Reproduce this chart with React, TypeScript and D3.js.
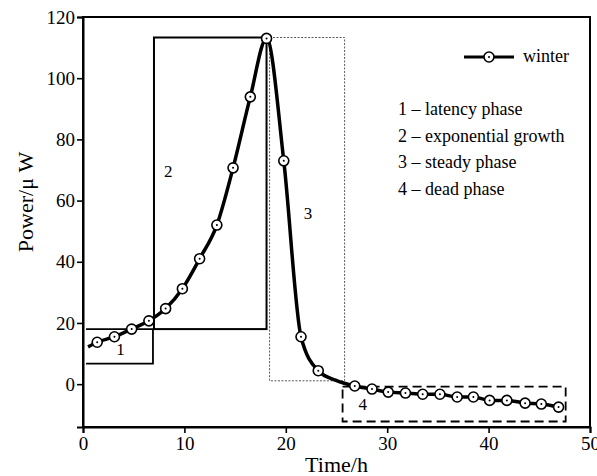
import React, { useEffect, useRef } from 'react';
import * as d3 from 'd3';

// sampled curve (hours, µW)
const lineTime = [0.5, 1.4, 3.1, 4.8, 6.5, 8.15, 9.8, 11.5, 13.2, 14.8, 16.5, 18.1, 19.8, 21.5, 23.2, 24.9, 26.8, 28.5, 30.1, 31.8, 33.5, 35.2, 36.9, 38.5, 40.1, 41.8, 43.6, 45.2, 46.9];
const linePower = [12.2, 13.7, 15.5, 18.0, 20.7, 24.7, 31.2, 41.0, 52.0, 70.7, 93.9, 113.0, 73.0, 15.5, 4.4, 1.3, -0.6, -1.6, -2.6, -2.9, -3.3, -3.3, -4.2, -4.2, -5.3, -5.3, -6.2, -6.5, -7.5];
// points that carry a marker
const markTime = [1.4, 3.1, 4.8, 6.5, 8.15, 9.8, 11.5, 13.2, 14.8, 16.5, 18.1, 19.8, 21.5, 23.2, 26.8, 28.5, 30.1, 31.8, 33.5, 35.2, 36.9, 38.5, 40.1, 41.8, 43.6, 45.2, 46.9];
const markPower = [13.7, 15.5, 18.0, 20.7, 24.7, 31.2, 41.0, 52.0, 70.7, 93.9, 113.0, 73.0, 15.5, 4.4, -0.6, -1.6, -2.6, -2.9, -3.3, -3.3, -4.2, -4.2, -5.3, -5.3, -6.2, -6.5, -7.5];

const xTicks = [0, 10, 20, 30, 40, 50];
const yTicks = [0, 20, 40, 60, 80, 100, 120];

// phase boxes [x0, x1, y0, y1]
const phaseBoxes = [
  [0.3, 6.9, 6.7, 18.0],
  [7.0, 18.1, 18.0, 113.3],
  [18.4, 25.8, 1.1, 113.3],
  [25.6, 47.6, -12.2, -0.8],
];
const phaseLabels = ['1', '2', '3', '4'];
const phaseLabelPos = [[3.7, 11.4], [8.4, 69.7], [22.2, 55.8], [27.6, -6.4]];
const phaseNames = ['1 – latency phase', '2 – exponential growth', '3 – steady phase', '4 – dead phase'];

const App = () => {
  const ref = useRef<SVGSVGElement>(null);

  useEffect(() => {
    const svg = d3.select(ref.current);
    svg.selectAll('*').remove();

    const left = 83, right = 590, top = 17, bottom = 427;
    const x = d3.scaleLinear().domain([0, 50]).range([left, right]);
    const y = d3.scaleLinear().domain([-14, 120]).range([bottom, top]);
    const font = '"Liberation Serif", "Times New Roman", serif';

    const g = svg.append('g');

    // phase boxes
    const b1 = phaseBoxes[0];
    g.append('path')
      .attr('d', `M${x(b1[0])},${y(b1[3])}H${x(b1[1])}V${y(b1[2])}H${x(b1[0])}`)
      .attr('fill', 'none').attr('stroke', '#000').attr('stroke-width', 1.8);
    const b2 = phaseBoxes[1];
    g.append('rect')
      .attr('x', x(b2[0])).attr('y', y(b2[3]))
      .attr('width', x(b2[1]) - x(b2[0])).attr('height', y(b2[2]) - y(b2[3]))
      .attr('fill', 'none').attr('stroke', '#000').attr('stroke-width', 2);
    const b3 = phaseBoxes[2];
    g.append('rect')
      .attr('x', x(b3[0])).attr('y', y(b3[3]))
      .attr('width', x(b3[1]) - x(b3[0])).attr('height', y(b3[2]) - y(b3[3]))
      .attr('fill', 'none').attr('stroke', '#444').attr('stroke-width', 0.9)
      .attr('stroke-dasharray', '2,1.5');
    const b4 = phaseBoxes[3];
    g.append('rect')
      .attr('x', x(b4[0])).attr('y', y(b4[3]))
      .attr('width', x(b4[1]) - x(b4[0])).attr('height', y(b4[2]) - y(b4[3]))
      .attr('fill', 'none').attr('stroke', '#000').attr('stroke-width', 1.8)
      .attr('stroke-dasharray', '9,5');

    phaseLabels.forEach((t, i) => {
      g.append('text')
        .attr('x', x(phaseLabelPos[i][0])).attr('y', y(phaseLabelPos[i][1]))
        .attr('dy', '0.35em').attr('text-anchor', 'middle')
        .attr('font-family', font).attr('font-size', 17).text(t);
    });

    // curve
    const line = d3.line<number>()
      .x((d, i) => x(lineTime[i]))
      .y((d) => y(d))
      .curve(d3.curveMonotoneX);
    g.append('path')
      .attr('d', line(linePower))
      .attr('fill', 'none').attr('stroke', '#000').attr('stroke-width', 3.5);

    const marker = (cx: number, cy: number) => {
      g.append('circle').attr('cx', cx).attr('cy', cy).attr('r', 5)
        .attr('fill', '#fff').attr('stroke', '#000').attr('stroke-width', 1.6);
      g.append('circle').attr('cx', cx).attr('cy', cy).attr('r', 1).attr('fill', '#000');
    };
    markTime.forEach((t, i) => marker(x(t), y(markPower[i])));

    // frame
    g.append('rect')
      .attr('x', left).attr('y', top).attr('width', right - left).attr('height', bottom - top)
      .attr('fill', 'none').attr('stroke', '#000').attr('stroke-width', 2);

    // axes
    const xAxis = g.append('g').attr('transform', `translate(0,${bottom})`)
      .call(d3.axisBottom(x).tickValues(xTicks).tickSize(6).tickPadding(4).tickFormat(d3.format('d')));
    const yAxis = g.append('g').attr('transform', `translate(${left},0)`)
      .call(d3.axisLeft(y).tickValues(yTicks).tickSize(6).tickPadding(2).tickFormat(d3.format('d')));
    [xAxis, yAxis].forEach((a) => {
      a.select('.domain').attr('stroke-width', 2);
      a.selectAll('.tick line').attr('stroke-width', 1.6);
      a.selectAll('.tick text').attr('font-family', font).attr('font-size', 19).attr('fill', '#000');
    });

    // axis titles
    g.append('text')
      .attr('x', (left + right) / 2).attr('y', 472)
      .attr('text-anchor', 'middle').attr('font-family', font).attr('font-size', 22)
      .text('Time/h');
    g.append('text')
      .attr('transform', `translate(33,${(top + bottom) / 2 - 20}) rotate(-90)`)
      .attr('text-anchor', 'middle').attr('font-family', font).attr('font-size', 22)
      .text('Power/μ W');

    // legend
    g.append('line').attr('x1', 464).attr('x2', 514).attr('y1', 57).attr('y2', 57)
      .attr('stroke', '#000').attr('stroke-width', 3);
    marker(489, 57);
    g.append('text').attr('x', 523).attr('y', 62)
      .attr('font-family', font).attr('font-size', 18).text('winter');

    phaseNames.forEach((t, i) => {
      g.append('text').attr('x', 398).attr('y', 115 + i * 26.5)
        .attr('font-family', font).attr('font-size', 18).text(t);
    });
  }, []);

  return (
    <svg ref={ref} width={597} height={476}
      style={{ position: 'absolute', left: 0, top: 0, background: '#fff' }} />
  );
};

export default App;
